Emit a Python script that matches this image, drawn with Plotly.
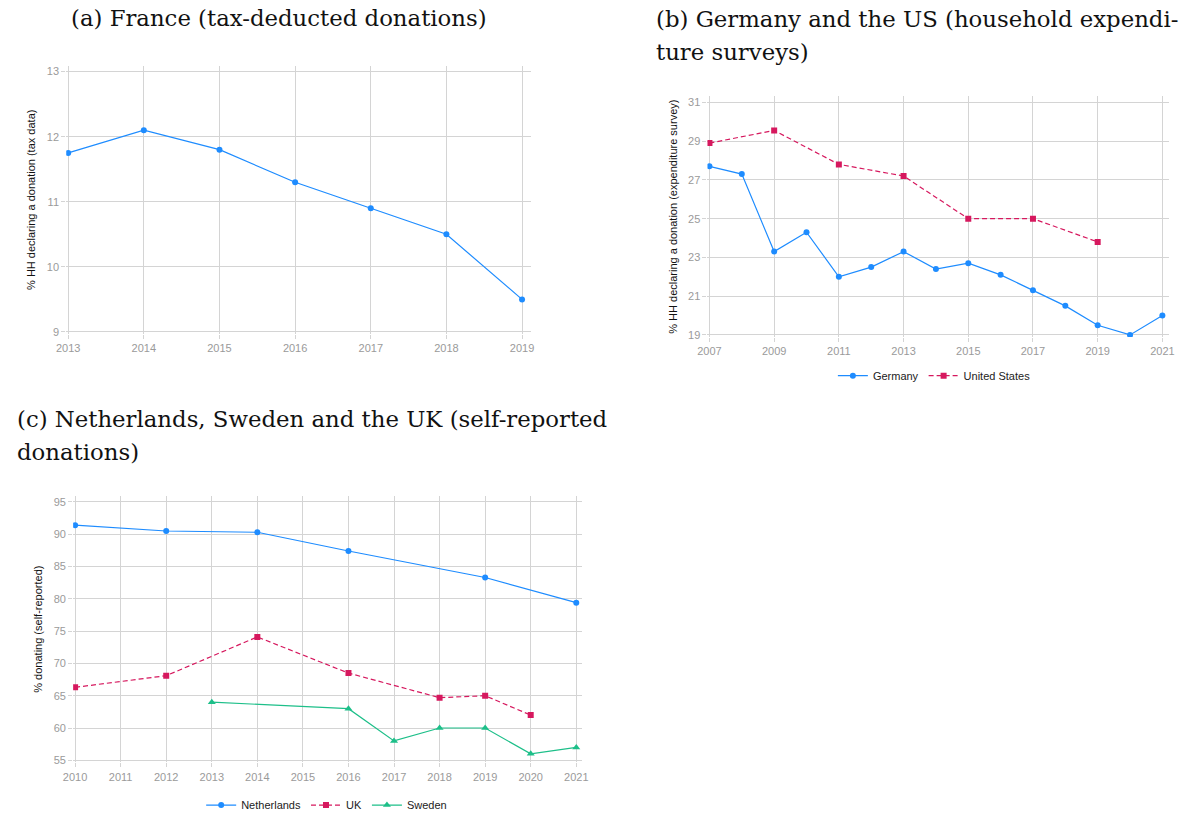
import plotly.graph_objects as go

# ---------------- data ----------------
fr_years = [2013, 2014, 2015, 2016, 2017, 2018, 2019]
fr_vals = [11.75, 12.1, 11.8, 11.3, 10.9, 10.5, 9.5]

de_years = list(range(2007, 2022))
de_vals = [27.7, 27.3, 23.3, 24.3, 22.0, 22.5, 23.3, 22.4, 22.7, 22.1, 21.3, 20.5, 19.5, 19.0, 20.0]
us_years = [2007, 2009, 2011, 2013, 2015, 2017, 2019]
us_vals = [28.9, 29.55, 27.8, 27.2, 25.0, 25.0, 23.8]

nl_years = [2010, 2012, 2014, 2016, 2019, 2021]
nl_vals = [91.4, 90.5, 90.3, 87.4, 83.3, 79.4]
uk_years = [2010, 2012, 2014, 2016, 2018, 2019, 2020]
uk_vals = [66.3, 68.1, 74.1, 68.5, 64.7, 65.0, 62.0]
se_years = [2013, 2016, 2017, 2018, 2019, 2020, 2021]
se_vals = [64.0, 63.0, 58.0, 60.0, 60.0, 56.0, 57.0]

title_a = "(a) France (tax-deducted donations)"
title_b = ["(b) Germany and the US (household expendi-", "ture surveys)"]
title_c = ["(c) Netherlands, Sweden and the UK (self-reported", "donations)"]

BLUE = "#1E8CFF"
RED = "#D6185E"
GREEN = "#1DBF89"
GRID = "#D4D4D4"
W, H = 1188, 820


def xd(l, r):
    return [l / W, r / W]


def yd(top, bottom):
    return [1 - bottom / H, 1 - top / H]


fig = go.Figure()

# panel a
fig.add_trace(go.Scatter(x=fr_years, y=fr_vals, mode="lines+markers", xaxis="x", yaxis="y",
                         line=dict(color=BLUE, width=1.2), marker=dict(symbol="circle", size=6, color=BLUE),
                         showlegend=False))
# panel b
fig.add_trace(go.Scatter(x=de_years, y=de_vals, mode="lines+markers", xaxis="x2", yaxis="y2", name="Germany",
                         line=dict(color=BLUE, width=1.2), marker=dict(symbol="circle", size=6, color=BLUE),
                         legend="legend"))
fig.add_trace(go.Scatter(x=us_years, y=us_vals, mode="lines+markers", xaxis="x2", yaxis="y2", name="United States",
                         line=dict(color=RED, width=1.2, dash="5px,3px"), marker=dict(symbol="square", size=6, color=RED),
                         legend="legend"))
# panel c
fig.add_trace(go.Scatter(x=nl_years, y=nl_vals, mode="lines+markers", xaxis="x3", yaxis="y3", name="Netherlands",
                         line=dict(color=BLUE, width=1.2), marker=dict(symbol="circle", size=6, color=BLUE),
                         legend="legend2"))
fig.add_trace(go.Scatter(x=uk_years, y=uk_vals, mode="lines+markers", xaxis="x3", yaxis="y3", name="UK",
                         line=dict(color=RED, width=1.2, dash="5px,3px"), marker=dict(symbol="square", size=6, color=RED),
                         legend="legend2"))
fig.add_trace(go.Scatter(x=se_years, y=se_vals, mode="lines+markers", xaxis="x3", yaxis="y3", name="Sweden",
                         line=dict(color=GREEN, width=1.2), marker=dict(symbol="triangle-up", size=7, color=GREEN),
                         legend="legend2"))

tickfont = dict(family="Liberation Sans, Arial", size=11, color="#9A9A9A")
titlefont = dict(family="Liberation Sans, Arial", size=11, color="#111111")
common = dict(showgrid=True, gridcolor=GRID, gridwidth=1.2, zeroline=False, showline=False,
              ticks="outside", ticklen=4, tickcolor=GRID, tickwidth=1.2, tickfont=tickfont)

fig.update_layout(
    width=W, height=H, margin=dict(l=0, r=0, t=0, b=0),
    paper_bgcolor="white", plot_bgcolor="white",
    xaxis=dict(domain=xd(57, 528), range=[2012.974, 2019.117], tickvals=fr_years, anchor="y", **common),
    yaxis=dict(domain=yd(66, 336), range=[8.969, 13.092], tickvals=[9, 10, 11, 12, 13], anchor="x",
               title=dict(text="% HH declaring a donation (tax data)", font=titlefont, standoff=8), **common),
    xaxis2=dict(domain=xd(707, 1175), range=[2006.939, 2021.21], tickvals=list(range(2007, 2022, 2)), anchor="y2", **common),
    yaxis2=dict(domain=yd(97, 339), range=[18.897, 31.308], tickvals=list(range(19, 32, 2)), anchor="x2",
                title=dict(text="% HH declaring a donation (expenditure survey)", font=titlefont, standoff=8), **common),
    xaxis3=dict(domain=xd(64, 580), range=[2009.957, 2021.13], tickvals=list(range(2010, 2022)), anchor="y3", **common),
    yaxis3=dict(domain=yd(499, 767), range=[54.69, 95.92], tickvals=list(range(55, 96, 5)), anchor="x3",
                title=dict(text="% donating (self-reported)", font=titlefont, standoff=8), **common),
    legend=dict(orientation="h", x=937 / W, y=1 - 378 / H, xanchor="center", yanchor="middle",
                font=dict(family="Liberation Sans, Arial", size=11, color="#222222"), bgcolor="rgba(0,0,0,0)"),
    legend2=dict(orientation="h", x=321 / W, y=1 - 810 / H, xanchor="center", yanchor="middle",
                 font=dict(family="Liberation Sans, Arial", size=11, color="#222222"), bgcolor="rgba(0,0,0,0)"),
)

serif = dict(family="DejaVu Serif, Liberation Serif, serif", size=22.8, color="#111111")


def title_line(text, xpx, ypx):
    fig.add_annotation(text=text, xref="paper", yref="paper", x=xpx / W, y=1 - ypx / H,
                       xanchor="left", yanchor="middle", showarrow=False, font=serif, align="left",
                       borderpad=0)


title_line(title_a, 61, 18)
title_line(title_b[0], 654, 19)
title_line(title_b[1], 654, 52)
title_line(title_c[0], 6, 422)
title_line(title_c[1], 6, 455)

fig.write_html("out.html", config={"displayModeBar": False},
               post_script="document.body.style.margin='0';document.body.style.overflow='hidden';")
